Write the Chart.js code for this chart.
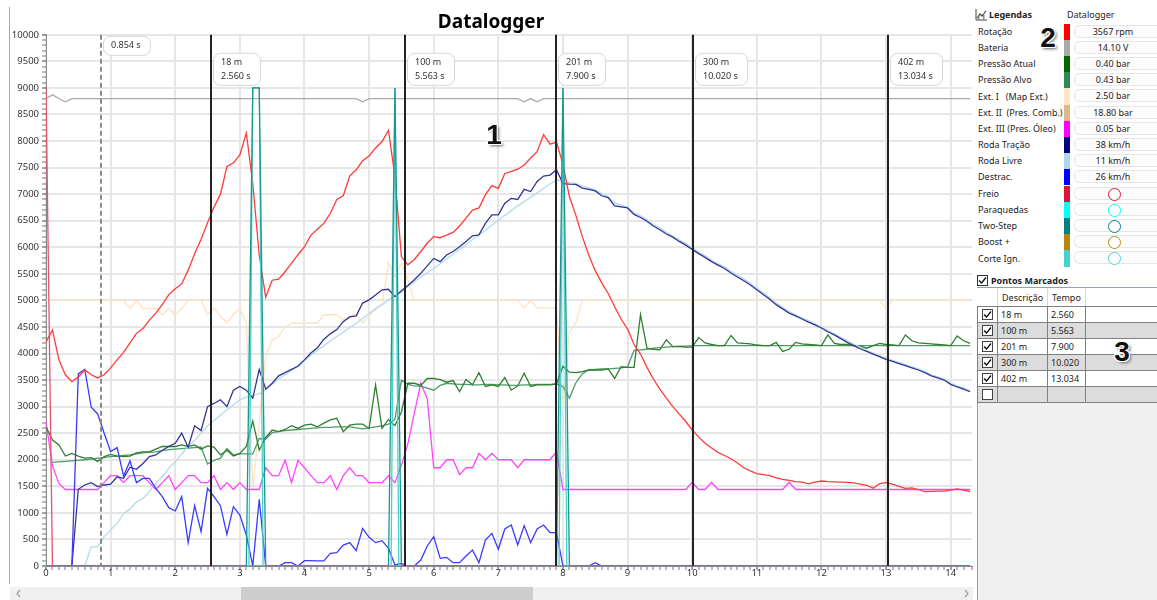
<!DOCTYPE html>
<html>
<head>
<meta charset="utf-8">
<title>Datalogger</title>
<script src="https://cdn.jsdelivr.net/npm/chart.js@4.4.1/dist/chart.umd.min.js"></script>
<style>
  body { margin: 0; width: 1157px; height: 600px; overflow: hidden; background: #fff;
         font-family: 'Noto Sans', sans-serif; color: #222; position: relative; }
  #wrap { position: absolute; left: 10px; top: 0; width: 963px; height: 585px; }
  #frame { position: absolute; left: 9px; top: 7px; width: 1px; height: 577px; background: #a8a8a8; }
  #scroll { position: absolute; left: 10px; top: 587px; width: 963px; height: 13px; background: #f0f0f0; }
  #thumb { position: absolute; left: 231px; top: 0; width: 292px; height: 13px; background: #cdcdcd; }
  .arrow { position: absolute; top: 2px; }
  .big { position: absolute; width: 30px; text-align: center; font: bold 28px/28px 'Liberation Sans', Arial, sans-serif;
         color: #111; text-shadow: 1px 1px 0 #fff, -1px -1px 0 #fff, 1px -1px 0 #fff, -1px 1px 0 #fff, 2px 2px 3px #666; }
  .lrow { position: absolute; left: 0; width: 182px; }
  .lname { position: absolute; left: 3px; font-size: 9px; white-space: pre; color: #222; }
  .sw { position: absolute; left: 89px; width: 6px; }
  .val { position: absolute; left: 99px; width: 90px; height: 13px; border: 1px solid #e6e6e6; border-radius: 5px;
         background: #fcfcfc; box-sizing: border-box; }
  .val span { position: absolute; left: 0; width: 76px; text-align: center; font-size: 9px; line-height: 12px; }
  .circ { position: absolute; left: 33px; top: 0; width: 13px; height: 13px; border-radius: 50%;
          box-sizing: border-box; border: 1.5px solid; background: #fff; }
  #legend { position: absolute; left: 975px; top: 0; width: 182px; height: 270px; }
  #lower { position: absolute; left: 977px; top: 288px; width: 180px; height: 312px; background: #f0f0f0;
           border-left: 1px solid #a0a0a0; box-sizing: border-box; }
  #marks { position: absolute; left: 977px; top: 288px; width: 180px; border-collapse: collapse; table-layout: fixed;
           font-size: 9px; background: #fff; }
  #marks th { height: 18px; padding: 0 0 0 4px; text-align: left; font-weight: normal; border-right: 1px solid #d8d8d8;
              border-bottom: 1px solid #808080; background: #fff; }
  #marks td { height: 15px; padding: 0 0 0 3px; border: 1px solid #808080; white-space: nowrap; }
  #marks tr.alt td { background: #dcdcdc; }
</style>
</head>
<body>
<div id="frame"></div>
<div id="wrap"><canvas id="chart"></canvas></div>
<div id="scroll">
  <div id="thumb"></div>
  <svg class="arrow" style="left:5px" width="8" height="9"><polyline points="5,1 2,4.5 5,8" fill="none" stroke="#a0a0a0" stroke-width="1.2"/></svg>
  <svg class="arrow" style="left:953px" width="8" height="9"><polyline points="2,1 5,4.5 2,8" fill="none" stroke="#a0a0a0" stroke-width="1.2"/></svg>
</div>
<div id="legend"></div>
<div id="lower"></div>
<div style="position:absolute;left:977px;top:287px;width:180px;height:1px;background:#8aa4bf;"></div>
<svg style="position:absolute;left:977px;top:275px" width="11" height="11"><rect x="0.5" y="0.5" width="10" height="10" fill="#fff" stroke="#333"/><polyline points="2,5.5 4.5,8 9,2.5" fill="none" stroke="#111" stroke-width="1.4"/></svg>
<div style="position:absolute;left:991px;top:274px;font-size:9px;font-weight:bold;line-height:14px;">Pontos Marcados</div>
<table id="marks">
  <colgroup><col style="width:20px"><col style="width:50px"><col style="width:38px"><col></colgroup>
  <thead><tr><th></th><th>Descrição</th><th>Tempo</th><th style="border-right:none"></th></tr></thead>
  <tbody id="markBody"></tbody>
</table>
<div class="big" style="left:479px;top:121px;">1</div>
<div class="big" style="left:1033px;top:24px;">2</div>
<div class="big" style="left:1107px;top:338px;">3</div>

<script>
// logger channels, already scaled to the 0..10000 chart axis, one sample every 0.1 s
var rpm = [
  4220, 4440, 3880, 3600, 3470, 3560, 3690, 3600, 3540, 3600,
  3730, 3880, 4020, 4200, 4380, 4470, 4630, 4760, 4920, 5110,
  5220, 5310, 5570, 5880, 6150, 6460, 6760, 7000, 7520, 7590,
  7740, 8150, 7200, 5850, 5060, 5380, 5400, 5540, 5700, 5860,
  6010, 6230, 6340, 6450, 6640, 6900, 6970, 7340, 7460, 7630,
  7720, 7870, 7990, 8200, 7330, 5820, 5670, 5770, 5920, 6080,
  6200, 6180, 6230, 6280, 6400, 6550, 6700, 6740, 6990, 7160,
  7110, 7390, 7430, 7470, 7550, 7680, 7800, 8120, 7940, 7980,
  7560, 6950, 6600, 6200, 5850, 5560, 5330, 5130, 4880, 4650,
  4460, 4170, 3990, 3740, 3520, 3330, 3160, 3000, 2860, 2720,
  2560, 2430, 2310, 2220, 2140, 2080, 2020, 1940, 1850, 1790,
  1740, 1720, 1700, 1660, 1630, 1610, 1590, 1580, 1545, 1580,
  1600, 1590, 1585, 1580, 1575, 1565, 1540, 1520, 1465, 1550,
  1570, 1540, 1500, 1460, 1470, 1440, 1400, 1405, 1410, 1410,
  1430, 1450, 1430, 1400
];
var battery = [
  8800, 8870, 8800, 8740, 8800, 8800, 8800, 8800, 8800, 8800,
  8800, 8800, 8800, 8800, 8800, 8800, 8800, 8800, 8800, 8800,
  8800, 8800, 8800, 8800, 8800, 8800, 8800, 8800, 8800, 8800,
  8800, 8800, 8800, 8800, 8800, 8800, 8800, 8800, 8800, 8800,
  8800, 8800, 8800, 8800, 8800, 8800, 8800, 8800, 8800, 8740,
  8800, 8800, 8800, 8800, 8800, 8800, 8800, 8800, 8800, 8800,
  8800, 8800, 8800, 8800, 8800, 8800, 8800, 8800, 8800, 8800,
  8800, 8800, 8800, 8800, 8740, 8800, 8740, 8800, 8800, 8800,
  8800, 8800, 8800, 8800, 8800, 8800, 8800, 8800, 8800, 8800,
  8800, 8800, 8800, 8800, 8800, 8800, 8800, 8800, 8800, 8800,
  8800, 8800, 8800, 8800, 8800, 8800, 8800, 8800, 8800, 8800,
  8800, 8800, 8800, 8800, 8800, 8800, 8800, 8800, 8800, 8800,
  8800, 8800, 8800, 8800, 8800, 8800, 8800, 8800, 8800, 8800,
  8800, 8800, 8800, 8800, 8800, 8800, 8800, 8800, 8800, 8800,
  8800, 8800, 8800, 8800
];
var boostActual = [
  2620, 2370, 2280, 2070, 2120, 2070, 2030, 2040, 1970, 2060,
  2100, 2070, 2060, 2070, 2130, 2150, 2150, 2200, 2250, 2250,
  2250, 2280, 2250, 2280, 2200, 2260, 2240, 2090, 2180, 2070,
  2120, 2250, 2730, 2180, 2420, 2560, 2530, 2570, 2640, 2590,
  2650, 2670, 2620, 2690, 2750, 2780, 2530, 2650, 2670, 2670,
  2590, 3410, 2590, 2760, 2640, 2900, 3440, 3440, 3400, 3530,
  3530, 3510, 3460, 3490, 3280, 3510, 3410, 3640, 3380, 3410,
  3380, 3550, 3310, 3390, 3630, 3380, 3410, 3410, 3410, 3430,
  3760, 3650, 3640, 3660, 3690, 3690, 3690, 3710, 3530, 3750,
  3740, 3740, 4730, 4100, 4080, 4070, 4260, 4130, 4130, 4120,
  4120, 4300, 4200, 4170, 4150, 4150, 4340, 4200, 4190, 4180,
  4160, 4150, 4150, 4210, 4040, 4080, 4210, 4180, 4170, 4160,
  4150, 4350, 4190, 4170, 4170, 4150, 4140, 4100, 4150, 4190,
  4170, 4160, 4150, 4350, 4240, 4200, 4190, 4180, 4170, 4160,
  4150, 4330, 4240, 4190
];
var boostTarget = [
  null, 1950, 1960, 1970, 1980, 1990, 2000, 2010, 2030, 2040,
  2060, 2070, 2080, 2090, 2110, 2130, 2140, 2150, 2170, 2190,
  2200, 2210, 2220, 2230, 2240, 1920, 1990, 2030, 2210, 2090,
  2110, 2110, 2110, 2400, 2390, 2510, 2530, 2550, 2560, 2570,
  2580, 2590, 2600, 2610, 2610, 2620, 2620, 2620, 2600, 2580,
  2600, 2620, 2640, 2670, 2760, 3500, 3420, 3390, 3380, 3350,
  3310, 3400, 3440, 3430, 3420, 3420, 3410, 3410, 3420, 3420,
  3410, 3410, 3400, 3400, 3410, 3410, 3420, 3420, 3420, 3430,
  3380, 3160, 3450, 3620, 3690, 3700, 3710, 3710, 3720, 3730,
  3750, 4060, 4070, 4080, 4100, 4110, 4120, 4130, 4140, 4140,
  4150, 4150, 4150, 4150, 4150, 4150, 4150, 4150, 4150, 4150,
  4150, 4150, 4150, 4150, 4150, 4150, 4150, 4150, 4150, 4150,
  4150, 4150, 4150, 4150, 4150, 4150, 4150, 4150, 4150, 4150,
  4150, 4150, 4150, 4150, 4150, 4150, 4150, 4150, 4150, 4150,
  4150, 4150, 4150, 4150
];
var extMap = [
  5000, 5000, 5000, 5000, 5000, 5000, 5000, 5000, 5000, 5000,
  5000, 5000, 5000, 4850, 5000, 4850, 4850, 4850, 4730, 4850,
  4730, 4850, 5000, 5000, 5000, 4730, 4850, 4700, 4580, 4730,
  4850, 4570, 1450, 2700, 3950, 4250, 4320, 4500, 4570, 4570,
  4570, 4570, 4570, 4730, 4730, 4730, 4630, 4700, 4750, 4580,
  4700, 4850, 4920, 5710, 5450, 5700, 5390, 5000, 5000, 5000,
  5000, 5000, 5000, 5000, 5000, 5000, 5000, 5000, 5000, 5000,
  5000, 5000, 5000, 5000, 4860, 5000, 4860, 4860, 4860, 4860,
  3000, 4400, 4580, 5000, 5000, 5000, 5000, 5000, 5000, 5000,
  5000, 5000, 5000, 5000, 5000, 5000, 5000, 5000, 5000, 5000,
  5000, 5000, 5000, 5000, 5000, 5000, 5000, 5000, 5000, 5000,
  5000, 5000, 5000, 5000, 5000, 5000, 5000, 5000, 5000, 5000,
  5000, 5000, 5000, 5000, 5000, 5000, 5000, 5000, 5000, 5000,
  4850, 5000, 5000, 5000, 5000, 5000, 5000, 5000, 5000, 5000,
  5000, 5000, 5000, 5000
];
var oilPress = [
  2710, 1890, 1550, 1440, 1440, 1440, 1440, 1440, 1440, 1570,
  1700, 1700, 1570, 1700, 1700, 1700, 1570, 1440, 1570, 1700,
  1440, 1570, 1700, 1700, 1570, 1570, 1700, 1440, 1570, 1440,
  1570, 1440, 1440, 1440, 1850, 1700, 1700, 1990, 1570, 1990,
  1850, 1700, 1570, 1570, 1700, 1440, 1700, 1850, 1700, 1700,
  1570, 1570, 1570, 1700, 1570, 1900, 2300, 2880, 3440, 3150,
  1850, 1850, 2000, 2000, 1720, 1850, 1850, 2120, 2000, 2120,
  2000, 2000, 2000, 1850, 2000, 2000, 2000, 2000, 2000, 2150,
  1440, 1440, 1440, 1440, 1440, 1440, 1440, 1440, 1440, 1440,
  1440, 1440, 1440, 1440, 1440, 1440, 1440, 1440, 1440, 1440,
  1575, 1440, 1440, 1575, 1440, 1440, 1440, 1440, 1440, 1440,
  1440, 1440, 1440, 1440, 1440, 1575, 1440, 1440, 1440, 1440,
  1440, 1440, 1440, 1440, 1440, 1440, 1440, 1440, 1440, 1440,
  1440, 1440, 1440, 1440, 1440, 1440, 1440, 1440, 1440, 1440,
  1440, 1440, 1440, 1440
];
var driveWheel = [
  0, 0, 0, 0, 0, 1444, 1525, 1570, 1494, 1525,
  1540, 1680, 1650, 1860, 1820, 1930, 2060, 2090, 2180, 2250,
  2310, 2500, 2235, 2640, 2550, 3000, 3060, 3130, 3000, 3310,
  3380, 3310, 3160, 3700, 3330, 3440, 3580, 3640, 3700, 3760,
  3880, 4010, 4110, 4270, 4370, 4450, 4600, 4690, 4710, 4950,
  5010, 5100, 5200, 5210, 5070, 5180, 5280, 5390, 5510, 5650,
  5790, 5730, 5856, 5920, 6010, 6110, 6215, 6235, 6450, 6610,
  6610, 6830, 6920, 6900, 7090, 7050, 7240, 7340, 7360, 7460,
  7200, 7190, 7185, 7115, 7090, 7060, 6970, 6935, 6780, 6760,
  6740, 6620, 6560, 6490, 6400, 6330, 6250, 6190, 6110, 6040,
  5960, 5880, 5810, 5730, 5665, 5600, 5515, 5440, 5370, 5290,
  5200, 5110, 5020, 4920, 4840, 4760, 4710, 4650, 4590, 4540,
  4480, 4410, 4350, 4280, 4210, 4150, 4090, 4040, 3990, 3940,
  3890, 3850, 3810, 3770, 3730, 3690, 3640, 3580, 3540, 3500,
  3420, 3370, 3330, 3280
];
var freeWheel = [
  0, 0, 0, 0, 0, 0, 0, 360, 360, 550,
  680, 800, 990, 1070, 1210, 1270, 1400, 1560, 1680, 1840,
  1960, 2110, 2250, 2360, 2500, 2640, 2740, 2840, 2940, 3030,
  3130, 3180, 3210, 3240, 3320, 3420, 3520, 3600, 3680, 3780,
  3880, 3970, 4060, 4140, 4240, 4320, 4400, 4490, 4570, 4660,
  4750, 4840, 4920, 5010, 5090, 5150, 5260, 5350, 5440, 5520,
  5600, 5690, 5780, 5870, 5960, 6050, 6140, 6230, 6320, 6420,
  6510, 6600, 6690, 6780, 6860, 6940, 7020, 7110, 7190, 7270,
  7240, 7220, 7200, 7150, 7120, 7080, 7010, 6950, 6830, 6790,
  6750, 6650, 6590, 6520, 6430, 6360, 6280, 6210, 6140, 6070,
  5990, 5910, 5840, 5760, 5690, 5630, 5550, 5470, 5400, 5320,
  5230, 5140, 5050, 4950, 4870, 4790, 4730, 4670, 4620, 4560,
  4500, 4430, 4370, 4300, 4240, 4180, 4120, 4060, 4010, 3960,
  3910, 3870, 3830, 3790, 3750, 3710, 3660, 3600, 3560, 3520,
  3440, 3390, 3350, 3300
];
var slip = [
  0, 0, 0, 0, 0, 3616, 3703, 2988, 2862, 2498,
  2153, 2228, 1695, 1977, 1569, 1650, 1650, 1462, 1306, 1098,
  1036, 1306, 439, 1136, 647, 1463, 1306, 1130, 596, 1117,
  960, 584, 0, 1255, 0, 0, 0, 63, 63, 0,
  100, 100, 95, 95, 239, 250, 395, 440, 290, 709,
  540, 440, 477, 333, 20, 50, 0, 0, 113, 377,
  552, 144, 163, 63, 63, 188, 301, 63, 490, 615,
  314, 697, 772, 395, 760, 440, 697, 772, 628, 628,
  0, 0, 0, 0, 0, 63, 0, 0, 0, 0,
  0, 0, 0, 0, 0, 0, 0, 0, 0, 0,
  0, 0, 0, 0, 0, 0, 0, 0, 0, 0,
  0, 0, 0, 0, 0, 0, 0, 0, 0, 0,
  0, 0, 0, 0, 0, 0, 0, 0, 0, 0,
  0, 0, 0, 0, 0, 0, 0, 0, 0, 0,
  0, 0, 0, 0
];
// on/off channels: [time, level]
var brake = [[0, 9000], [0.1, 0], [14.3, 0]];
var twoStep = [[0, 0], [3.1, 0], [3.2, 9000], [3.3, 9000], [3.4, 0], [5.3, 0], [5.4, 9000], [5.5, 0],
               [7.9, 0], [8.0, 9000], [8.1, 0], [14.3, 0]];
var ignCut = [[0, 0], [3.14, 0], [3.2, 9000], [3.3, 9000], [3.36, 0], [5.34, 0], [5.4, 9000], [5.46, 0],
              [7.94, 0], [8.0, 9000], [8.06, 0], [14.3, 0]];

var cursorTime = 0.854;
var markNames = ['18 m', '100 m', '201 m', '300 m', '402 m'];
var markTimes = [2.560, 5.563, 7.900, 10.020, 13.034];

var legendNames = ['Rotação', 'Bateria', 'Pressão Atual', 'Pressão Alvo', 'Ext. I   (Map Ext.)',
  'Ext. II  (Pres. Comb.)', 'Ext. III (Pres. Óleo)', 'Roda Tração', 'Roda Livre', 'Destrac.',
  'Freio', 'Paraquedas', 'Two-Step', 'Boost +', 'Corte Ign.'];
var legendColors = ['#ff0000', '#a9a9a9', '#006400', '#2e8b57', '#ffe4c4', '#deb887', '#ff00ff',
  '#000080', '#add8e6', '#0000ff', '#dc143c', '#00ffff', '#008080', '#b8860b', '#48d1cc'];
var legendValues = ['3567 rpm', '14.10 V', '0.40 bar', '0.43 bar', '2.50 bar', '18.80 bar', '0.05 bar',
  '38 km/h', '11 km/h', '26 km/h', null, null, null, null, null];

var time = [];
for (var i = 0; i < rpm.length; i++) time.push(i / 10);

function series(values) {
  return values.map(function (v, i) { return { x: time[i], y: v }; });
}
function steps(pairs) {
  return pairs.map(function (p) { return { x: p[0], y: p[1] }; });
}
function isWhole(v, step) {
  var q = v / step;
  return Math.abs(q - Math.round(q)) < 1e-6;
}

// legend panel
var legend = document.getElementById('legend');
var head = '<svg style="position:absolute;left:0;top:9px" width="12" height="12">' +
  '<polyline points="1,0 1,11 12,11" fill="none" stroke="#444"/>' +
  '<polyline points="2,9 5,5 7,7 11,2" fill="none" stroke="#444" stroke-width="1.2"/>' +
  '<rect x="3" y="7" width="1.5" height="4" fill="#888"/><rect x="8" y="6" width="1.5" height="5" fill="#888"/></svg>' +
  '<div style="position:absolute;left:14px;top:8px;font-size:9px;font-weight:bold;line-height:14px">Legendas</div>' +
  '<div style="position:absolute;left:92px;top:8px;font-size:9px;line-height:14px">Datalogger</div>';
var rows = '';
legendNames.forEach(function (name, i) {
  var top = 23.5 + i * 16.2;
  var t0 = Math.round(top), t1 = Math.round(top + 16.2);
  rows += '<div class="lrow" style="top:' + t0 + 'px;height:' + (t1 - t0) + 'px">' +
    '<div class="lname" style="line-height:' + (t1 - t0) + 'px">' + name + '</div>' +
    '<div class="sw" style="top:0;height:' + (t1 - t0) + 'px;background:' + legendColors[i] + '"></div>' +
    '<div class="val" style="top:1px">' +
    (legendValues[i] ? '<span>' + legendValues[i] + '</span>'
      : '<div class="circ" style="border-color:' + legendColors[i] + '"></div>') +
    '</div></div>';
});
legend.innerHTML = head + rows;

// marked points table
var checkOn = '<svg width="11" height="11"><rect x="0.5" y="0.5" width="10" height="10" fill="#fff" stroke="#444"/>' +
  '<polyline points="2,5.5 4.5,8 9,2.5" fill="none" stroke="#111" stroke-width="1.4"/></svg>';
var checkOff = '<svg width="11" height="11"><rect x="0.5" y="0.5" width="10" height="10" fill="#fff" stroke="#444"/></svg>';
var body = '';
markNames.concat(['']).forEach(function (n, i) {
  var t = i < markTimes.length ? markTimes[i].toFixed(3) : '';
  body += '<tr' + (i % 2 ? ' class="alt"' : '') + '><td style="padding-left:4px;line-height:0">' +
    (n ? checkOn : checkOff) + '</td><td>' + n + '</td><td>' + t + '</td><td style="border-right:none"></td></tr>';
});
document.getElementById('markBody').innerHTML = body;

// vertical marks for the measured distances and the cursor
function drawTag(ctx, x, y, lines) {
  var w = 0;
  lines.forEach(function (s) { w = Math.max(w, ctx.measureText(s).width); });
  w = Math.round(w + 17);
  var h = Math.round(lines.length * 13.5 + 5);
  ctx.beginPath();
  ctx.roundRect(x + 0.5, y + 0.5, w, h, 7);
  ctx.fillStyle = '#fff';
  ctx.fill();
  ctx.strokeStyle = '#d6d6d6';
  ctx.lineWidth = 1;
  ctx.stroke();
  ctx.fillStyle = '#333';
  lines.forEach(function (s, k) { ctx.fillText(s, x + 8, y + 10 + k * 13.5); });
}

var markPlugin = {
  id: 'marks',
  afterDatasetsDraw: function (chart) {
    var ctx = chart.ctx, a = chart.chartArea, xs = chart.scales.x;
    ctx.save();
    ctx.font = '9px "Noto Sans"';
    ctx.textBaseline = 'middle';
    var pc = Math.round(xs.getPixelForValue(cursorTime));
    ctx.strokeStyle = '#8a8a8a';
    ctx.lineWidth = 2;
    ctx.setLineDash([5, 3]);
    ctx.beginPath();
    ctx.moveTo(pc, a.top);
    ctx.lineTo(pc, a.bottom);
    ctx.stroke();
    ctx.setLineDash([]);
    markTimes.forEach(function (t) {
      var p = Math.round(xs.getPixelForValue(t));
      ctx.strokeStyle = '#222';
      ctx.lineWidth = 2;
      ctx.beginPath();
      ctx.moveTo(p, a.top);
      ctx.lineTo(p, a.bottom);
      ctx.stroke();
    });
    drawTag(ctx, pc + 2, a.top + 1, [cursorTime.toFixed(3) + ' s']);
    markTimes.forEach(function (t, i) {
      var p = Math.round(xs.getPixelForValue(t));
      drawTag(ctx, p + 2, a.top + 18, [markNames[i], t.toFixed(3) + ' s']);
    });
    ctx.restore();
  }
};

function line(label, data, color, width) {
  return { label: label, data: data, borderColor: color, backgroundColor: color, borderWidth: width || 1.3,
           pointRadius: 0, fill: false, tension: 0 };
}

var config = {
  type: 'line',
  data: {
    datasets: [
      line('Two-Step', steps(twoStep), '#1a9690'),
      line('Corte Ign.', steps(ignCut), '#48d1cc'),
      line('Freio', steps(brake), '#e8506e'),
      line('Rotação', series(rpm), '#ff3a3a'),
      line('Destrac.', series(slip), '#3a3aff'),
      line('Roda Tração', series(driveWheel), '#333399'),
      line('Roda Livre', series(freeWheel), '#b3dbe8'),
      line('Pressão Atual', series(boostActual), '#2f7f2f'),
      line('Pressão Alvo', series(boostTarget), '#4f9a6c'),
      line('Ext. III (Pres. Óleo)', series(oilPress), '#ff45ff'),
      line('Ext. I (Map Ext.)', series(extMap), '#ffe2c0'),
      line('Bateria', series(battery), '#a9a9a9')
    ]
  },
  options: {
    responsive: true,
    maintainAspectRatio: false,
    animation: false,
    events: [],
    layout: { padding: { left: 0, right: 1, top: 0, bottom: 0 } },
    plugins: {
      legend: { display: false },
      tooltip: { enabled: false },
      title: {
        display: true,
        text: 'Datalogger',
        color: '#000',
        font: { family: "'Noto Sans', sans-serif", size: 19, weight: 'bold' },
        padding: { top: 11, bottom: 1 }
      }
    },
    scales: {
      x: {
        type: 'linear',
        min: 0,
        max: 14.33,
        afterFit: function (s) { s.height = 19; },
        border: { color: '#8a8a8a' },
        grid: {
          color: function (c) { return isWhole(c.tick.value, 1) ? '#e6e6e6' : 'rgba(0,0,0,0)'; },
          lineWidth: 2,
          tickColor: function (c) { return isWhole(c.tick.value, 1) ? '#444' : '#777'; },
          tickWidth: 1,
          tickLength: 4
        },
        ticks: {
          stepSize: 0.1,
          autoSkip: false,
          maxRotation: 0,
          padding: -2,
          color: '#333',
          font: { family: "'Noto Sans', sans-serif", size: 9.5 },
          callback: function (v) { return isWhole(v, 1) ? String(Math.round(v)) : ''; }
        }
      },
      y: {
        min: 0,
        max: 10000,
        afterFit: function (s) { s.width = 36; },
        border: { color: '#8a8a8a' },
        grid: {
          color: function (c) { return isWhole(c.tick.value, 500) ? '#e6e6e6' : 'rgba(0,0,0,0)'; },
          lineWidth: 2,
          tickColor: function (c) { return isWhole(c.tick.value, 500) ? '#444' : '#777'; },
          tickWidth: 1,
          tickLength: 4
        },
        ticks: {
          stepSize: 100,
          autoSkip: false,
          padding: 3,
          color: '#333',
          font: { family: "'Noto Sans', sans-serif", size: 9.5 },
          callback: function (v) { return isWhole(v, 500) ? String(v) : ''; }
        }
      }
    }
  },
  plugins: [markPlugin]
};

window.myChart = new Chart(document.getElementById('chart'), config);
</script>
</body>
</html>
